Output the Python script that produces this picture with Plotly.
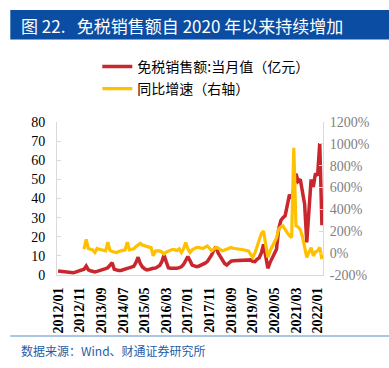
import plotly.graph_objects as go

W, H = 389, 368
# plot area in px
PL, PR, PT, PB = 56.7, 322.7, 122.0, 275.0

months = [f"{y}/{m:02d}" for y in range(2012, 2023) for m in range(1, 13)][:123]

sales = [2.1, 2.0, 1.8, 1.6, 1.5, 1.3, 1.2, 1.2, 1.5, 2.0, 2.3, 2.5,
         3.0, 4.7, 2.7, 2.2, 1.7, 1.6, 1.9, 2.2, 2.4, 2.8, 3.3, 3.8,
         4.8, 6.4, 3.0, 2.5, 2.3, 2.4, 2.8, 3.2, 3.5, 3.8, 4.1, 4.5,
         6.5, 9.3, 6.0, 4.2, 3.3, 2.7, 2.9, 3.3, 3.5, 3.6, 4.2, 5.0,
         7.0, 10.5, 7.0, 3.8, 3.5, 3.4, 3.3, 3.5, 3.9, 4.3, 5.5, 7.9,
         9.6, 7.5, 5.2, 4.8, 4.4, 4.6, 5.0, 5.5, 6.2, 7.0, 8.5, 10.5,
         13.0, 14.8, 11.5, 9.8, 8.0, 6.0, 5.2, 6.5, 7.2, 7.4, 7.5, 7.6,
         7.8, 7.9, 7.9, 7.9, 7.8, 7.9, 7.2, 7.0, 8.2, 9.0, 11.5, 16.0,
         10.0, 3.5, 6.5, 8.7, 11.0, 13.5, 24.0, 28.5, 30.0, 31.0, 36.5, 42.0,
         40.0, 45.0, 53.0, 49.0, 50.0, 44.0, 37.0, 17.0, 35.0, 50.0, 46.0, 53.0,
         52.0, 69.0, 26.0]

growth = [None] * 12 + [
    36, 127, 43, 40, 30, 6, 43, 35, 30, 25, 21, 100,
    25, 15, 8, 5, 15, 20, 25, 30, 100, 30, 35, 40,
    60, 75, 88, 75, 66, 60, 55, 50, -25, 20, 21, 20,
    10, -9, 10, 21, 25, 35, 30, 25, 40, 6, 40, 97,
    40, 6, 30, 43, 50, 52, 45, 43, 55, 66, 45, 21,
    35, 52, 45, 30, 21, 28, 36, 40, 52, 45, 40, 38,
    36, 33, 30, 28, 20, -10, -39, 0, 66, 120, 180, 203,
    100, -39, 20, 66, 100, 140, 220, 240, 248, 210, 185, 160,
    143, 965, 250, 240, 215, 150, 66, -39, 10, 50, -25, 10,
    21, 52, -55]

tick_labels = months[::10]
left_ticks = [0, 10, 20, 30, 40, 50, 60, 70, 80]
right_ticks = [-200, 0, 200, 400, 600, 800, 1000, 1200]

def px2x(px):
    return (px - PL) / (PR - PL)

def py2y(py):
    return (PB - py) / (PB - PT)

RED = "#C9272E"
YEL = "#FFC000"
GRID = "#D9D9D9"
SERIF = "Liberation Serif, Times New Roman, serif"
CJK = "Noto Sans CJK SC"

fig = go.Figure()
fig.add_trace(go.Scatter(x=months, y=sales, mode="lines", name="免税销售额:当月值（亿元）",
                         line=dict(color=RED, width=3.5), legend="legend"))
fig.add_trace(go.Scatter(x=months, y=growth, mode="lines", name="同比增速（右轴）",
                         line=dict(color=YEL, width=3.2), yaxis="y2", legend="legend2"))

fig.update_layout(
    width=W, height=H,
    margin=dict(l=PL, r=W - PR, t=PT, b=H - PB, pad=0, autoexpand=False),
    plot_bgcolor="white", paper_bgcolor="white",
    xaxis=dict(type="category", tickmode="array", tickvals=tick_labels, ticktext=tick_labels,
               tickangle=-90, tickfont=dict(family=SERIF, size=14, color="black", weight="bold"),
               showline=True, linecolor=GRID, linewidth=1, ticks="", showgrid=False,
               range=[-0.5, 122.5], automargin=False, ticklabelstandoff=6),
    yaxis=dict(range=[0, 80], tickvals=left_ticks, showgrid=False, zeroline=False,
               showline=True, linecolor=GRID, ticks="inside", ticklen=4, tickcolor=GRID,
               tickfont=dict(family=SERIF, size=14, color="black"), automargin=False,
               ticklabelstandoff=8),
    yaxis2=dict(range=[-200, 1200], tickvals=right_ticks, ticktext=[f"{v}%" for v in right_ticks],
                overlaying="y", side="right", showgrid=False, zeroline=False,
                showline=True, linecolor=GRID, ticks="inside", ticklen=4, tickcolor=GRID,
                tickfont=dict(family=SERIF, size=14, color="#7F7F7F"), automargin=False,
                ticklabelstandoff=3),
    legend=dict(x=px2x(97), y=py2y(51), xanchor="left", yanchor="top",
                font=dict(family=CJK, size=14, color="black"), bgcolor="rgba(0,0,0,0)"),
    legend2=dict(x=px2x(97), y=py2y(73), xanchor="left", yanchor="top",
                 font=dict(family=CJK, size=14, color="black"), bgcolor="rgba(0,0,0,0)"),
    showlegend=True,
    shapes=[
        dict(type="rect", xref="paper", yref="paper", x0=px2x(10), x1=px2x(389),
             y0=py2y(39.5), y1=py2y(10), fillcolor="#0B4DA2", line=dict(width=0), layer="below"),
        dict(type="line", xref="paper", yref="paper", x0=px2x(10), x1=px2x(389),
             y0=py2y(336), y1=py2y(336), line=dict(color="#8DB3DB", width=1.5)),
    ],
    annotations=[
        dict(text="图 22.\u00a0\u00a0\u00a0免税销售额自 2020 年以来持续增加", xref="paper", yref="paper",
             x=px2x(19), y=py2y(25), xanchor="left", yanchor="middle", showarrow=False,
             font=dict(family=CJK, size=17, color="white")),
        dict(text="数据来源：Wind、财通证券研究所", xref="paper", yref="paper",
             x=px2x(19), y=py2y(350), xanchor="left", yanchor="middle", showarrow=False,
             font=dict(family=CJK, size=12, color="#1F5DA8")),
    ],
)

fig.write_html("out.html", config={"displayModeBar": False},
               post_script="document.body.style.margin='0';document.body.style.overflow='hidden';")
